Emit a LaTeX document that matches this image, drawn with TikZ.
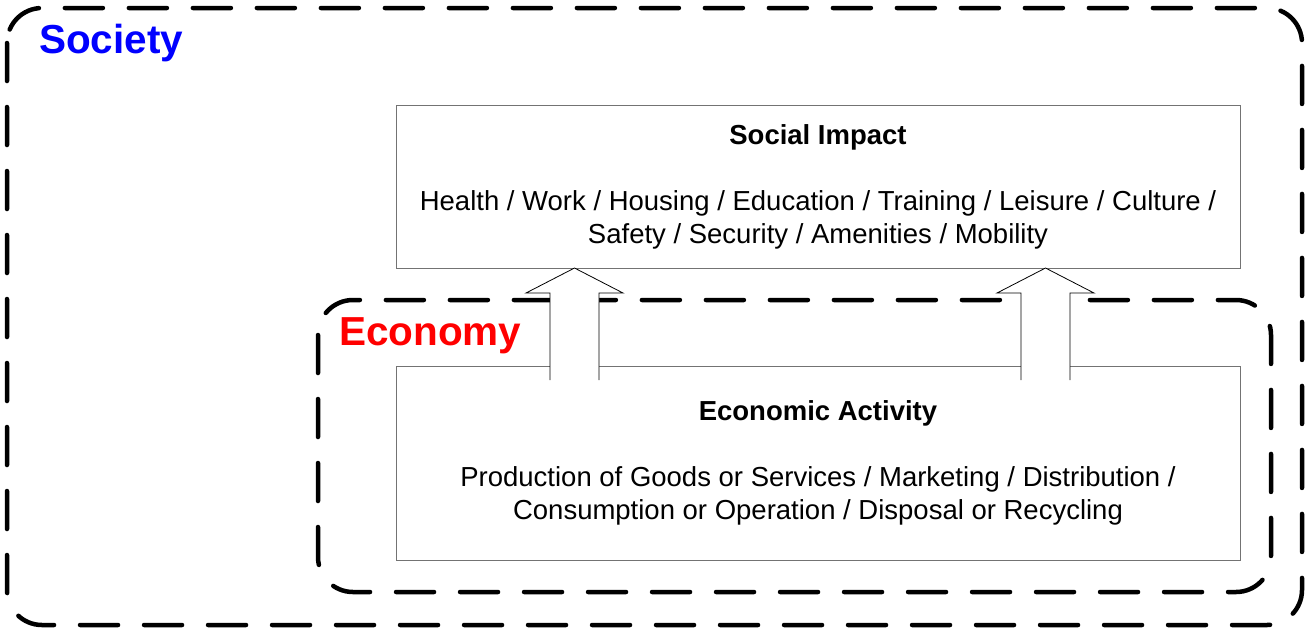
\documentclass[tikz,border=0pt]{standalone}
\usepackage{fontspec}
\setmainfont{Liberation Sans}
\begin{document}
\begin{tikzpicture}[x=1pt,y=-1pt,
    zone/.style={line width=4.5pt,dash pattern=on 38pt off 26pt,line cap=round,rounded corners=35pt},
    infobox/.style={draw=gray!90!black,line width=1pt,fill=white,align=center,inner sep=0pt,
        font=\fontsize{27.5}{33}\selectfont,minimum width=844pt},
    blockarrow/.style={draw=black,fill=white,line width=0.8pt,line join=miter}]

\def\ZONECOLOR{black}
	\useasboundingbox (0,0) rectangle (1306,630);
	% the two zones
	\draw[zone,\ZONECOLOR] (7,8) rectangle (1302,625);
	\node[anchor=north west,text=blue,font=\fontsize{40.5}{48}\selectfont\bfseries,inner sep=0pt] (society) at (39,24) {Society};
	\draw[zone,\ZONECOLOR] (318,300) rectangle (1271,592);
	\node[anchor=north west,text=red,font=\fontsize{40.5}{48}\selectfont\bfseries,inner sep=0pt] (economy) at (339,317) {Economy};

	% boxes
	\node[infobox,minimum height=163pt] (impact) at (818,186.5)
	    {\textbf{Social Impact}\\[33pt]
	     Health / Work / Housing / Education / Training / Leisure / Culture /\\
	     Safety / Security / Amenities / Mobility};
	\node[infobox,minimum height=194pt] (activity) at (818,463)
	    {\textbf{Economic Activity}\\[33pt]
	     Production of Goods or Services / Marketing / Distribution /\\
	     Consumption or Operation / Disposal or Recycling};

	% block arrows
	\foreach \ax in {574.5,1045.5}
	    \draw[blockarrow] (\ax-24.5,380) -- (\ax-24.5,293) -- (\ax-48.5,293)
	        -- (\ax,268) -- (\ax+48.5,293) -- (\ax+24.5,293) -- (\ax+24.5,380);

          \end{tikzpicture}
\end{document}
